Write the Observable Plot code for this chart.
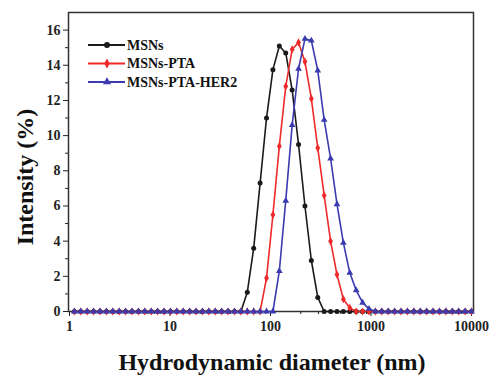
<!DOCTYPE html>
<html>
<head>
<meta charset="utf-8">
<script src="https://cdn.jsdelivr.net/npm/d3@7"></script>
<script src="https://cdn.jsdelivr.net/npm/@observablehq/plot@0.6"></script>
<style>
  body { margin: 0; background: white; }
  #chart svg { display: block; }
</style>
</head>
<body>
<div id="chart"></div>
<script>
// DLS size bins (nm)
const diameters = [1.117, 1.294, 1.499, 1.736, 2.010, 2.328, 2.696, 3.122, 3.615, 4.187,
  4.849, 5.615, 6.503, 7.531, 8.721, 10.10, 11.70, 13.54, 15.69, 18.17,
  21.04, 24.36, 28.21, 32.67, 37.84, 43.82, 50.75, 58.77, 68.06, 78.82,
  91.28, 105.7, 122.4, 141.8, 164.2, 190.1, 220.2, 255.0, 295.3, 342.0,
  396.1, 458.7, 531.2, 615.1, 712.4, 825.0, 955.4, 1106, 1281, 1484,
  1718, 1990, 2305, 2669, 3091, 3580, 4145, 4801, 5560, 6439,
  7456, 8635, 10000];

const seriesNames = ["MSNs", "MSNs-PTA", "MSNs-PTA-HER2"];
const seriesColors = ["#1a1a1a", "#ee2a2a", "#3b3bb0"];
const seriesSymbols = ["circle", "diamond", "triangle"];

const msns = [0,0,0,0,0,0,0,0,0,0, 0,0,0,0,0,0,0,0,0,0, 0,0,0,0,0,0,0,
  1.1,3.6,7.3,11.0,13.75,15.1,14.7,12.6,9.5,6.0,2.9,0.8,
  0,0,0,0,0,0,0,0,0,0, 0,0,0,0,0,0,0,0,0,0, 0,0,0,0];
const msnsPta = [0,0,0,0,0,0,0,0,0,0, 0,0,0,0,0,0,0,0,0,0, 0,0,0,0,0,0,0,0,0,0,
  1.9,5.5,9.4,12.8,14.9,15.3,14.2,12.1,9.3,6.6,4.0,2.1,0.7,0.2,
  0,0,0,0,0,0,0,0,0,0, 0,0,0,0,0,0,0,0,0];
const msnsPtaHer2 = [0,0,0,0,0,0,0,0,0,0, 0,0,0,0,0,0,0,0,0,0, 0,0,0,0,0,0,0,0,0,0, 0,0,
  2.3,6.3,10.6,13.8,15.5,15.4,13.7,10.9,8.7,6.1,3.9,2.2,1.2,0.5,0.15,
  0,0,0,0,0,0,0,0,0,0, 0,0,0,0,0,0];

const xTicks = [1, 10, 100, 1000, 10000];
const xTickLabels = ["1", "10", "100", "1000", "10000"];
const xMinorTicks = [2,3,4,5,6,7,8,9, 20,30,40,50,60,70,80,90, 200,300,400,500,600,700,800,900, 2000,3000,4000,5000,6000,7000,8000,9000];
const yTicks = [0, 2, 4, 6, 8, 10, 12, 14, 16];
const yMinorTicks = [1, 3, 5, 7, 9, 11, 13, 15];

const xTitle = "Hydrodynamic diameter (nm)";
const yTitle = "Intensity (%)";

const seriesValues = [msns, msnsPta, msnsPtaHer2];
const data = seriesNames.flatMap((name, i) =>
  diameters.map((d, j) => ({series: name, d, v: seriesValues[i][j]})));

const font = "'Liberation Serif', 'Times New Roman', serif";

const svg = Plot.plot({
  width: 493,
  height: 376,
  marginLeft: 68,
  marginRight: 20,
  marginTop: 12,
  marginBottom: 65,
  style: {fontFamily: font, fontWeight: "bold", fontSize: "14px", color: "#222", background: "white"},
  x: {type: "log", domain: [1, 10000], insetLeft: 1, insetRight: 2, label: null},
  y: {domain: [0, 17], label: null},
  color: {domain: seriesNames, range: seriesColors},
  symbol: {domain: seriesNames, range: seriesSymbols},
  marks: [
    Plot.frame({stroke: "#333", strokeWidth: 1.5}),
    Plot.axisX({ticks: xTicks, tickFormat: d => xTickLabels[xTicks.indexOf(d)], tickSize: 5, tickPadding: 5, label: null}),
    Plot.axisX({ticks: xMinorTicks, tickSize: 3, tickFormat: () => "", label: null}),
    Plot.axisY({ticks: yTicks, tickSize: 5, tickPadding: 3, label: null}),
    Plot.axisY({ticks: yMinorTicks, tickSize: 3, tickFormat: () => "", label: null}),
    Plot.line(data, {x: "d", y: "v", z: "series", stroke: "series", strokeWidth: 1.6}),
    Plot.dot(data, {x: "d", y: "v", fill: "series", symbol: "series", r: 2.5, stroke: "none"})
  ]
});

const g = d3.select(svg);
// axis titles
g.append("text")
  .attr("x", 272).attr("y", 370)
  .attr("text-anchor", "middle")
  .attr("font-family", font).attr("font-weight", "bold").attr("font-size", 24)
  .attr("fill", "#111")
  .text(xTitle);
g.append("text")
  .attr("transform", "translate(33,177) rotate(-90)")
  .attr("text-anchor", "middle")
  .attr("font-family", font).attr("font-weight", "bold").attr("font-size", 24)
  .attr("fill", "#111")
  .text(yTitle);

// legend
const symMap = {circle: d3.symbolCircle, diamond: d3.symbolDiamond, triangle: d3.symbolTriangle};
const leg = g.append("g").attr("text-anchor", "start");
seriesNames.forEach((name, i) => {
  const y = 45 + i * 18.5;
  leg.append("line").attr("x1", 88).attr("x2", 125).attr("y1", y).attr("y2", y)
    .attr("stroke", seriesColors[i]).attr("stroke-width", 1.8);
  leg.append("path").attr("transform", `translate(107,${y})`)
    .attr("d", d3.symbol(symMap[seriesSymbols[i]], Math.PI * 3 * 3)())
    .attr("fill", seriesColors[i]);
  leg.append("text").attr("x", 127).attr("y", y).attr("dy", "0.35em")
    .attr("text-anchor", "start")
    .attr("font-family", font).attr("font-weight", "bold").attr("font-size", 14)
    .attr("fill", "#111")
    .text(name);
});

document.getElementById("chart").append(svg);
</script>
</body>
</html>
